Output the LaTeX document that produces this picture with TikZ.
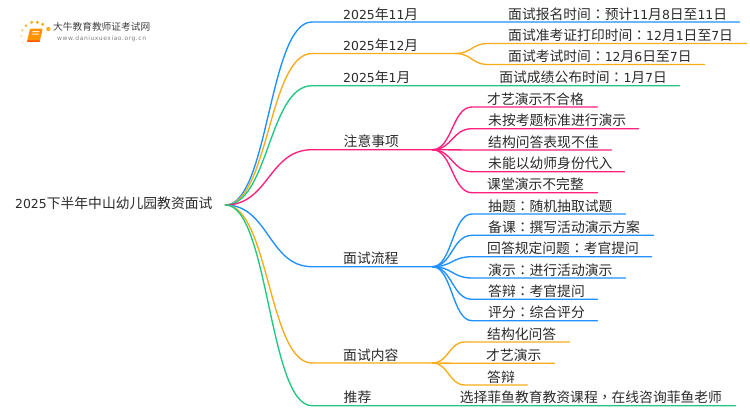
\documentclass[tikz,border=0pt]{standalone}
\usepackage{fontspec}
\setmainfont{Noto Sans CJK SC}
\newfontfamily\latf[Scale=0.9]{DejaVu Sans}
\newfontfamily\cjkt{Noto Sans CJK TC}
\newfontfamily\urlf[LetterSpace=9]{DejaVu Sans}
\usetikzlibrary{calc}
\newcommand{\lat}[1]{{\latf #1}}
\newcommand{\colonz}{{\cjkt ：}}
\newcommand{\commaz}{{\cjkt ，}}
\definecolor{cblue}{HTML}{1E90FF}
\definecolor{corange}{HTML}{F9AC1B}
\definecolor{cgreen}{HTML}{1FC981}
\definecolor{cpink}{HTML}{FF1F7D}
\definecolor{ctext}{HTML}{2B2B2B}
\tikzset{
  lab/.style={inner sep=0pt,text height=12pt,text depth=2.6pt,anchor=south west,text=ctext,font=\fontsize{13.8}{16}\selectfont},
  conn/.style={line width=1.35pt,line cap=round},
  sweep/.style={to path={let \p1=(\tikztostart),\p2=(\tikztotarget) in .. controls ({(\x1+\x2)/2},\y1) and ({(\x1+\x2)/2},\y2) .. (\tikztotarget)}}
}
% name, x0, x1, y, text offset, text
\newcommand{\lbl}[6]{\node[lab] (#1) at (#2,#4) {\makebox[\dimexpr #3pt-#2pt\relax][l]{\hspace*{#5pt}#6}};}
\newcommand{\cn}[3]{\draw[conn,#1] (#2) to[sweep] (#3.south west) -- (#3.south east);}
\begin{document}
\begin{tikzpicture}[x=1pt,y=-1pt]
\useasboundingbox (0,0) rectangle (750,410);
\fill[white] (0,0) rectangle (750,410);
% logo
\foreach \px/\py/\r/\o in {48.3/29/2.1/1,42.7/24.3/1.7/1,37.3/22.3/1.7/1,31.7/22.3/1.7/.9,26/25.7/1.6/.8,22.3/30.3/1.4/.6,21.3/36/1.2/.4,22.7/41.7/1/.3}
  \fill[corange,opacity=\o] (\px,\py) circle (\r);
\fill[orange!85!yellow,rounded corners=1pt] (30,28.5) -- (42.7,28.5) -- (39.8,41.5) -- (27,41.5) -- cycle;
\fill[orange!70!red,rounded corners=.5pt] (27,41.8) -- (39.8,41.8) -- (40.2,40.3) -- (27.6,40.3) -- cycle;
\fill[white!85!orange] (32.5,31) -- (39.5,31) -- (39.2,32.2) -- (32.2,32.2) -- cycle;
\fill[white!85!orange] (32,33.5) -- (39,33.5) -- (38.7,34.7) -- (31.7,34.7) -- cycle;
\node[inner sep=0pt,anchor=west,text=black!75,font=\fontsize{9.7}{11}\selectfont] (logotitle) at (53,27) {大牛教育教师证考试网};
\node[inner sep=0pt,anchor=west,text=black!50,font=\urlf\fontsize{6}{7}\selectfont] (logourl) at (57,39) {www.daniuxuexiao.org.cn};
% root
\node[inner sep=0pt,anchor=west,text=ctext,font=\fontsize{13.8}{16}\selectfont,text height=10pt,text depth=3pt] (root) at (15,205) {\makebox[210pt][l]{\lat{2025}下半年中山幼儿园教资面试}};
% level 1
\lbl{nov}{312}{739}{22}{31}{\lat{2025}年\lat{11}月\hspace{90pt}面试报名时间\colonz 预计\lat{11}月\lat{8}日至\lat{11}日}
\lbl{dec}{312}{455}{53.5}{31}{\lat{2025}年\lat{12}月}
\lbl{jan}{312}{679}{85.7}{31}{\lat{2025}年\lat{1}月\hspace{89pt}面试成绩公布时间\colonz\lat{1}月\lat{7}日}
\lbl{att}{312}{432}{149.7}{31.5}{注意事项}
\lbl{flow}{312}{432}{266.7}{31}{面试流程}
\lbl{cont}{312}{432}{363}{31}{面试内容}
\lbl{rec}{312}{735}{405.7}{31.5}{推荐\hspace{88.5pt}选择菲鱼教育教资课程\commaz 在线咨询菲鱼老师}
% December children
\lbl{d1}{488}{746}{43.5}{20}{面试准考证打印时间\colonz\lat{12}月\lat{1}日至\lat{7}日}
\lbl{d2}{488}{704}{64.5}{20}{面试考试时间\colonz\lat{12}月\lat{6}日至\lat{7}日}
% attention children
\lbl{a1}{472}{597}{107}{15}{才艺演示不合格}
\lbl{a2}{472}{638}{128.7}{16}{未按考题标准进行演示}
\lbl{a3}{472}{611}{150}{16}{结构问答表现不佳}
\lbl{a4}{472}{624}{171.7}{16}{未能以幼师身份代入}
\lbl{a5}{472}{597}{192.7}{15}{课堂演示不完整}
% flow children
\lbl{f1}{472}{625}{214}{16}{抽题\colonz 随机抽取试题}
\lbl{f2}{472}{653}{235.3}{16}{备课\colonz 撰写活动演示方案}
\lbl{f3}{472}{651}{256.7}{15}{回答规定问题\colonz 考官提问}
\lbl{f4}{472}{625}{278}{16}{演示\colonz 进行活动演示}
\lbl{f5}{472}{597}{299.3}{16}{答辩\colonz 考官提问}
\lbl{f6}{472}{597}{320.7}{16}{评分\colonz 综合评分}
% content children
\lbl{c1}{465}{569}{342}{22}{结构化问答}
\lbl{c2}{465}{554}{363.3}{21}{才艺演示}
\lbl{c3}{465}{527}{385}{22}{答辩}
% connectors
\cn{cblue}{root.east}{nov}
\cn{corange}{root.east}{dec}
\cn{cgreen}{root.east}{jan}
\cn{cpink}{root.east}{att}
\cn{cblue}{root.east}{flow}
\cn{corange}{root.east}{cont}
\cn{cgreen}{root.east}{rec}
\cn{corange}{dec.south east}{d1}
\cn{corange}{dec.south east}{d2}
\foreach \c in {a1,a2,a3,a4,a5} {\cn{cpink}{att.south east}{\c}}
\foreach \c in {f1,f2,f3,f4,f5,f6} {\cn{cblue}{flow.south east}{\c}}
\foreach \c in {c1,c2,c3} {\cn{corange}{cont.south east}{\c}}
\end{tikzpicture}
\end{document}
